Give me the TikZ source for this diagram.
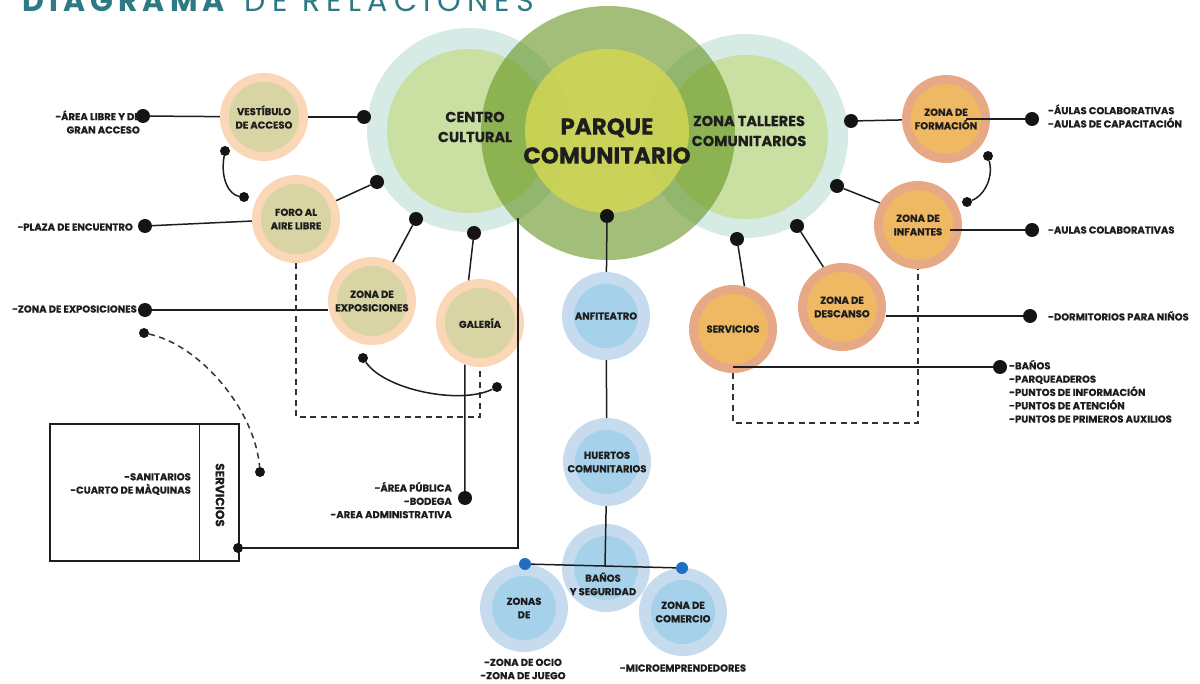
\documentclass[tikz,border=0pt]{standalone}
\usepackage{fontspec}
\setmainfont{Poppins}[BoldFeatures={FakeBold=0.6}]
\newfontfamily\ttlfamA[LetterSpace=17]{Poppins}
\newfontfamily\ttlfamB[LetterSpace=21]{Poppins}
\newcommand\ndfont{\bfseries\fontsize{10}{13.5}\selectfont}
\newcommand\lbfont{\bfseries\fontsize{10}{13.3}\selectfont}
\newcommand\bgfont{\bfseries\fontsize{14.5}{20}\selectfont}
\newcommand\pqfont{\bfseries\fontsize{23}{29}\selectfont}
\definecolor{txt}{HTML}{1E1E1E}
\definecolor{linec}{HTML}{1E1E1E}
\definecolor{dashc}{HTML}{333333}
\definecolor{dotc}{HTML}{141414}
\definecolor{peachO}{HTML}{F9D7B7}
\definecolor{peachI}{HTML}{D9D4A4}
\definecolor{orO}{HTML}{E7A886}
\definecolor{orI}{HTML}{EFB862}
\definecolor{blO}{HTML}{C6DCEE}
\definecolor{blI}{HTML}{A5D1EB}
\definecolor{sideO}{HTML}{D6EAE6}
\definecolor{sideI}{HTML}{CADFA2}
\definecolor{parO}{HTML}{64941E}
\definecolor{parI}{HTML}{D5D852}
\definecolor{titlec}{HTML}{2E7A84}
\definecolor{blueDot}{HTML}{1F6EC2}
\begin{document}
\begin{tikzpicture}[x=1pt,y=-1pt,
  conn/.style={line width=1.5pt, draw=linec},
  dashline/.style={line width=1.5pt, draw=dashc, dash pattern=on 6pt off 4.5pt},
  bigdot/.style={circle, fill=dotc, minimum size=14pt, inner sep=0pt},
  smalldot/.style={circle, fill=dotc, minimum size=10pt, inner sep=0pt},
  bluedot/.style={circle, fill=blueDot, minimum size=12pt, inner sep=0pt},
  nd/.style={circle, minimum size=88pt, inner sep=0pt, align=center, font=\ndfont, text=txt},
  peachnode/.style={nd, fill=peachO, path picture={\fill[peachI] (path picture bounding box.center) circle (35pt);}},
  orangenode/.style={nd, fill=orO, path picture={\fill[orI] (path picture bounding box.center) circle (35pt);}},
  bluenode/.style={nd, fill=blO, path picture={\fill[blI] (path picture bounding box.center) circle (32pt);}},
  bigcirc/.style={circle, inner sep=0pt},
  lbl/.style={font=\lbfont, text=txt, inner sep=0pt},
  bigtxt/.style={font=\bgfont, text=txt, align=center, inner sep=0pt},
]
\useasboundingbox (0,0) rectangle (1200,684);
\fill[white] (0,0) rectangle (1200,684);

% title
\node[anchor=base west, inner sep=0pt, text=titlec] (title) at (22,12) {{\ttlfamA\fontsize{30}{30}\selectfont\bfseries DIAGRAMA}\hspace{20pt}{\ttlfamB\fontsize{30}{30}\selectfont DE RELACIONES}};

% big circles
\node[bigcirc, fill=sideO, minimum size=204pt] (cc) at (469,130) {};
\node[bigcirc, fill=sideI, minimum size=164pt] (cc-in) at (469,131) {};
\node[bigcirc, fill=sideO, minimum size=204pt] (zt) at (746,136) {};
\node[bigcirc, fill=sideI, minimum size=164pt] (zt-in) at (746,137) {};
\node[bigcirc, fill=parO, fill opacity=0.6, minimum size=254pt] (pq) at (608,133) {};
\node[bigcirc, fill=parI, fill opacity=0.8, minimum size=164pt] (pq-in) at (607,131) {};
\node[bigtxt] (cc-t) at (475,127) {CENTRO\\CULTURAL};
\node[bigtxt] (zt-t) at (749,131) {ZONA TALLERES\\COMUNITARIOS};
\node[bigtxt, font=\pqfont] (pq-t) at (607,141) {PARQUE\\COMUNITARIO};

% small nodes
\node[peachnode] (vest) at (264,117) {VESTÍBULO\\DE ACCESO};
\node[peachnode] (foro) at (296,219) {FORO AL\\AIRE LIBRE};
\node[peachnode] (expo) at (372,301) {ZONA DE\\EXPOSICIONES};
\node[peachnode] (gal) at (480,323) {GALERÍA};
\node[orangenode] (form) at (946,119) {ZONA DE\\FORMACIÓN};
\node[orangenode] (inf) at (918,225) {ZONA DE\\INFANTES};
\node[orangenode] (desc) at (842,307) {ZONA DE\\DESCANSO};
\node[orangenode] (serv) at (733,329) {SERVICIOS};
\node[bluenode] (anf) at (606,316) {ANFITEATRO};
\node[bluenode] (hue) at (607,462) {HUERTOS\\COMUNITARIOS};
\node[bluenode] (ban) at (606,568) {};
\node[bluenode] (zon) at (524,608) {ZONAS\\DE};
\node[bluenode] (com) at (683,612) {ZONA DE\\COMERCIO};
\node[font=\ndfont, text=txt, align=center, inner sep=0pt] (ban-t) at (603,584) {BAÑOS\\Y SEGURIDAD};

% box
\node[draw=linec, line width=1.4pt, minimum width=189pt, minimum height=137pt, inner sep=0pt] (box) at (144.5,492.5) {};
\draw[conn] ([xshift=150pt]box.north west) -- ([xshift=150pt]box.south west);
\node[font=\bfseries\fontsize{12}{14}\selectfont, text=txt, rotate=-90, inner sep=0pt] (box-t) at (220,495) {SERVICIOS};
\node[lbl, anchor=east, align=right] (t-sanit) at (191,484) {-SANITARIOS\\-CUARTO DE MÀQUINAS};

% dots
\node[bigdot] (d-vl) at (143,116) {};
\node[bigdot] (d-vr) at (364,117) {};
\node[smalldot] (c-v1) at (225,151) {};
\node[smalldot] (c-v2) at (244,197) {};
\node[bigdot] (d-fr) at (377,182) {};
\node[bigdot] (d-fl) at (145,226) {};
\node[bigdot] (d-er) at (416,219) {};
\node[bigdot] (d-gr) at (474,233) {};
\node[bigdot] (d-el) at (145,310) {};
\node[smalldot] (c-e1) at (363,358) {};
\node[smalldot] (c-e2) at (497,387) {};
\node[smalldot] (c-s1) at (144,333) {};
\node[smalldot] (c-s2) at (260,472) {};
\node[bigdot] (d-ga) at (465,498) {};
\node[smalldot] (d-box) at (238,548) {};
\coordinate (cc-down) at (518,218);
\coordinate (cc-corner) at (518,548);
\node[bigdot] (d-pq) at (607,216) {};
\node[bigdot] (d-zf) at (851,121) {};
\node[bigdot] (d-fo) at (1032,119) {};
\node[smalldot] (c-f1) at (988,156) {};
\node[smalldot] (c-f2) at (967,202) {};
\node[bigdot] (d-zi) at (837,186) {};
\node[bigdot] (d-io) at (1032,230) {};
\node[bigdot] (d-zd) at (797,226) {};
\node[bigdot] (d-do) at (1030,316) {};
\node[bigdot] (d-zs) at (737,239) {};
\node[bigdot] (d-so) at (1000,367) {};
\node[bluedot] (b-l) at (525,564) {};
\node[bluedot] (b-r) at (682,568) {};
\coordinate (b-join) at (605,566);
\coordinate (form-in) at (966,119);
\coordinate (inf-in) at (950,230);
\coordinate (serv-in) at (733,367);

% connectors
\draw[conn] (vest) -- (d-vl);
\draw[conn] (vest) -- (d-vr);
\draw[conn] (c-v1) .. controls (220,180) and (230,195) .. (c-v2);
\draw[conn] (foro) -- (d-fr);
\draw[conn] (foro) -- (d-fl);
\draw[conn] (expo) -- (d-er);
\draw[conn] (gal.105) -- (d-gr);
\draw[conn] (d-el) -- (d-el -| expo.west);
\draw[conn] (c-e1) .. controls (385,390) and (460,405) .. (c-e2);
\draw[dashline] (c-s1) .. controls (200,345) and (255,410) .. (c-s2);
\draw[conn] (gal.250) -- (d-ga);
\draw[conn] (cc-down) -- (cc-corner) -- (d-box);
\draw[dashline] (foro.south) -- ++(0,154) -| (gal.south);
\draw[conn] (d-pq) -- (anf);
\draw[conn] (anf) -- (hue);
\draw[conn] (hue) -- (b-join);
\draw[conn] (b-l) -- (b-r);
\draw[conn] (form) -- (d-zf);
\draw[conn] (form-in) -- (d-fo);
\draw[conn] (c-f1) .. controls (994,180) and (982,197) .. (c-f2);
\draw[conn] (inf.150) -- (d-zi);
\draw[conn] (inf-in) -- (d-io);
\draw[conn] (desc.115) -- (d-zd);
\draw[conn] (d-do -| desc.east) -- (d-do);
\draw[conn] (serv.75) -- (d-zs);
\draw[conn] (serv-in) -- (d-so);
\draw[dashline] (serv.south) -- ++(0,50) -| (inf.south);

% labels
\node[lbl, anchor=east, align=right] (t-vest) at (140,122) {-ÁREA LIBRE Y DE\\GRAN ACCESO};
\node[lbl, anchor=east] (t-plaza) at (133,227) {-PLAZA DE ENCUENTRO};
\node[lbl, anchor=east] (t-expo) at (137,309) {-ZONA DE EXPOSICIONES};
\node[lbl, anchor=east, align=right] (t-area) at (452,500) {-ÁREA PÚBLICA\\-BODEGA\\-AREA ADMINISTRATIVA};
\node[lbl, anchor=west, align=left] (t-form) at (1048,116) {-ÁULAS COLABORATIVAS\\-AULAS DE CAPACITACIÓN};
\node[lbl, anchor=west] (t-inf) at (1048,230) {-AULAS COLABORATIVAS};
\node[lbl, anchor=west] (t-dorm) at (1048,316) {-DORMITORIOS PARA NIÑOS};
\node[lbl, anchor=west, align=left] (t-serv) at (1009,391.5) {-BAÑOS\\-PARQUEADEROS\\-PUNTOS DE INFORMACIÓN\\-PUNTOS DE ATENCIÓN\\-PUNTOS DE PRIMEROS AUXILIOS};
\node[lbl, align=center] (t-ocio) at (523,669) {-ZONA DE OCIO\\-ZONA DE JUEGO};
\node[lbl] (t-micro) at (683,668) {-MICROEMPRENDEDORES};
\end{tikzpicture}
\end{document}
